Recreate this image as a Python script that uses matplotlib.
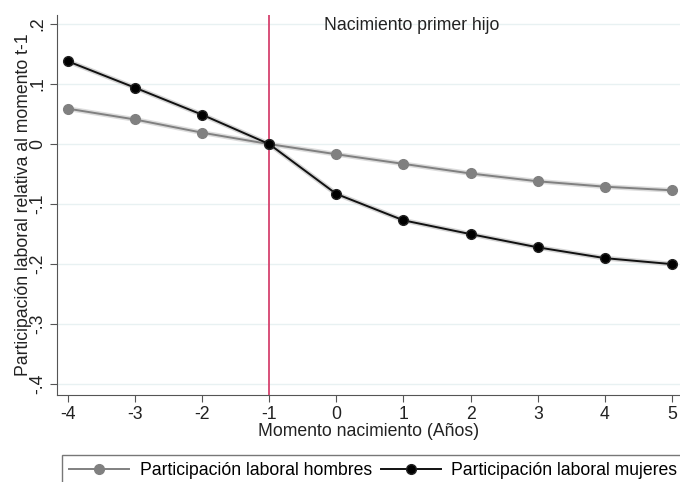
import matplotlib.pyplot as plt

plt.rcParams['font.family'] = ['Liberation Sans', 'DejaVu Sans']
plt.rcParams['axes.unicode_minus'] = False

# years relative to the birth of the first child
momento = [-4, -3, -2, -1, 0, 1, 2, 3, 4, 5]

# labour participation relative to t-1
hombres = [0.059, 0.041, 0.019, 0.0, -0.017, -0.033, -0.049, -0.062, -0.071, -0.077]
mujeres = [0.138, 0.094, 0.049, 0.0, -0.083, -0.127, -0.150, -0.172, -0.190, -0.200]

yticks = [-0.4, -0.3, -0.2, -0.1, 0, 0.1, 0.2]
ytick_labels = ['-.4', '-.3', '-.2', '-.1', '0', '.1', '.2']

fs = 12.7

fig = plt.figure(figsize=(6.8, 4.82), dpi=100)
ax = fig.add_axes([57 / 680, 1 - 395 / 482, 1 - 57 / 680, 380 / 482])

for y in yticks:
    ax.axhline(y, color='#e8f1f2', lw=1, zorder=0)

ax.axvline(-1, color='#d6426e', lw=1.3, zorder=1)

# thin grey halo under each line, like a narrow confidence band
ax.plot(momento, hombres, color='#dcdcdc', lw=3.5, zorder=2)
ax.plot(momento, mujeres, color='#d4d4d4', lw=3.5, zorder=2)

ax.plot(momento, hombres, color='#808080', lw=1.4, marker='o', ms=7,
        mfc='#808080', mec='#808080', zorder=3,
        label='Participación laboral hombres')
ax.plot(momento, mujeres, color='#111111', lw=1.4, marker='o', ms=7,
        mfc='black', mec='#222222', zorder=4,
        label='Participación laboral mujeres')

ax.text(1.13, 0.198, 'Nacimiento primer hijo', ha='center', va='center',
        fontsize=fs, color='#222222')

ax.set_xlim(-4.16, 5.12)
ax.set_ylim(-0.418, 0.215)
ax.set_xticks(momento)
ax.set_yticks(yticks)
ax.set_yticklabels(ytick_labels, rotation=90, va='center')
ax.tick_params(axis='both', labelsize=fs, color='#555555', length=5,
               labelcolor='#222222')
ax.tick_params(axis='x', pad=3)
ax.tick_params(axis='y', pad=2.5)

ax.spines['top'].set_visible(False)
ax.spines['right'].set_visible(False)
for s in ['left', 'bottom']:
    ax.spines[s].set_color('#555555')

ax.set_xlabel('Momento nacimiento (Años)', fontsize=fs, color='#222222', labelpad=0)
ax.set_ylabel('Participación laboral relativa al momento t-1', fontsize=fs,
              color='#222222', va='center')
ax.yaxis.set_label_coords(-33 / 623, 0.5)

leg = fig.legend(loc='upper left', bbox_to_anchor=(62 / 680, 1 - 455 / 482),
                 ncol=2, fontsize=fs, frameon=True, fancybox=False,
                 handlelength=3.4, handletextpad=0.6, columnspacing=0.5,
                 borderaxespad=0, borderpad=0.4)
leg.get_frame().set_edgecolor('#555555')
leg.get_frame().set_linewidth(1)

fig.savefig('out.png', dpi=100)
